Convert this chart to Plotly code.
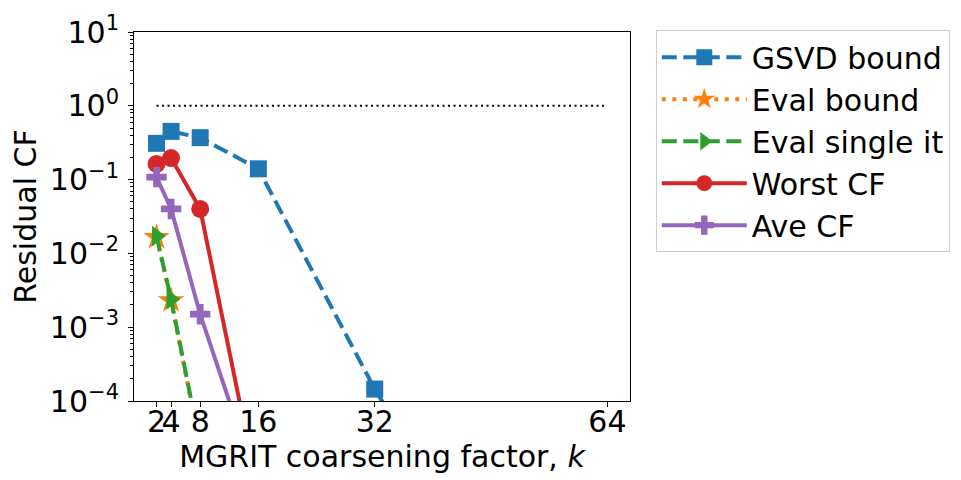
import plotly.graph_objects as go

k = [2, 4, 8, 16, 32, 64]
gsvd_bound = [0.31, 0.45, 0.37, 0.14, 1.45e-4, 1e-9]
eval_bound = [0.0165, 2.3e-3, 2.4e-5, 1e-9, 1e-12, 1e-15]
eval_single = [0.0172, 2.4e-3, 2.5e-5, 1e-9, 1e-12, 1e-15]
worst_cf = [0.163, 0.196, 0.04, 5.6e-6, 1e-9, 1e-12]
ave_cf = [0.108, 0.04, 1.5e-3, 6.6e-6, 1e-9, 1e-12]
ref_x = [2, 64]
ref_y = [1, 1]

y_ticks = [1e-4, 1e-3, 1e-2, 1e-1, 1e0, 1e1]
y_labels = ["10<sup>\u22124</sup>", "10<sup>\u22123</sup>", "10<sup>\u22122</sup>",
            "10<sup>\u22121</sup>", "10<sup>0</sup>", "10<sup>1</sup>"]

FS = 30

fig = go.Figure()
fig.add_trace(go.Scatter(x=ref_x, y=ref_y, mode="lines", showlegend=False,
                         line=dict(color="black", width=2, dash="2px,3.5px")))
fig.add_trace(go.Scatter(x=k, y=gsvd_bound, name="GSVD bound", mode="lines+markers",
                         line=dict(color="#1f77b4", width=4, dash="15px,6.5px"),
                         marker=dict(symbol="square", size=17, color="#1f77b4")))
fig.add_trace(go.Scatter(x=k, y=eval_bound, name="Eval bound", mode="lines+markers",
                         line=dict(color="#ff7f0e", width=4, dash="4px,6.5px"),
                         marker=dict(symbol="star", size=20, color="#ff7f0e")))
fig.add_trace(go.Scatter(x=k, y=eval_single, name="Eval single it", mode="lines+markers",
                         line=dict(color="#2ca02c", width=4, dash="15px,6.5px"),
                         marker=dict(symbol="triangle-right", size=18, color="#2ca02c")))
fig.add_trace(go.Scatter(x=k, y=worst_cf, name="Worst CF", mode="lines+markers",
                         line=dict(color="#d62728", width=4),
                         marker=dict(symbol="circle", size=18, color="#d62728")))
fig.add_trace(go.Scatter(x=k, y=ave_cf, name="Ave CF", mode="lines+markers",
                         line=dict(color="#9467bd", width=4),
                         marker=dict(symbol="cross", size=17, color="#9467bd")))

fig.update_layout(
    width=961, height=480,
    margin=dict(l=126, r=339, t=24, b=87, autoexpand=False),
    plot_bgcolor="white", paper_bgcolor="white",
    font=dict(family="DejaVu Sans", size=FS, color="black"),
    legend=dict(x=1.052, y=1.005, xanchor="left", yanchor="top",
                bordercolor="#d0d0d0", borderwidth=1, font=dict(size=FS),
                tracegroupgap=0, itemwidth=85),
)
fig.update_xaxes(range=[-1.1, 67.1], tickvals=k, ticktext=[str(v) for v in k],
                 tickangle=0, automargin=False, ticklabelstandoff=-11,
                 ticks="outside", ticklen=5, tickcolor="black",
                 showline=True, linecolor="black", linewidth=1, mirror=True,
                 showgrid=False, zeroline=False,
                 title=dict(text="MGRIT coarsening factor, <i>k</i>", standoff=4,
                            font=dict(size=FS)))
fig.update_yaxes(type="log", range=[-4, 1], tickvals=y_ticks, ticktext=y_labels,
                 automargin=False, ticklabelstandoff=3,
                 ticks="outside", ticklen=5, tickcolor="black",
                 minor=dict(ticks="outside", ticklen=3, tickcolor="black", dtick="D1"),
                 showline=True, linecolor="black", linewidth=1, mirror=True,
                 showgrid=False, zeroline=False,
                 title=dict(text="Residual CF", standoff=6, font=dict(size=FS)))

fig.write_html("out.html")
